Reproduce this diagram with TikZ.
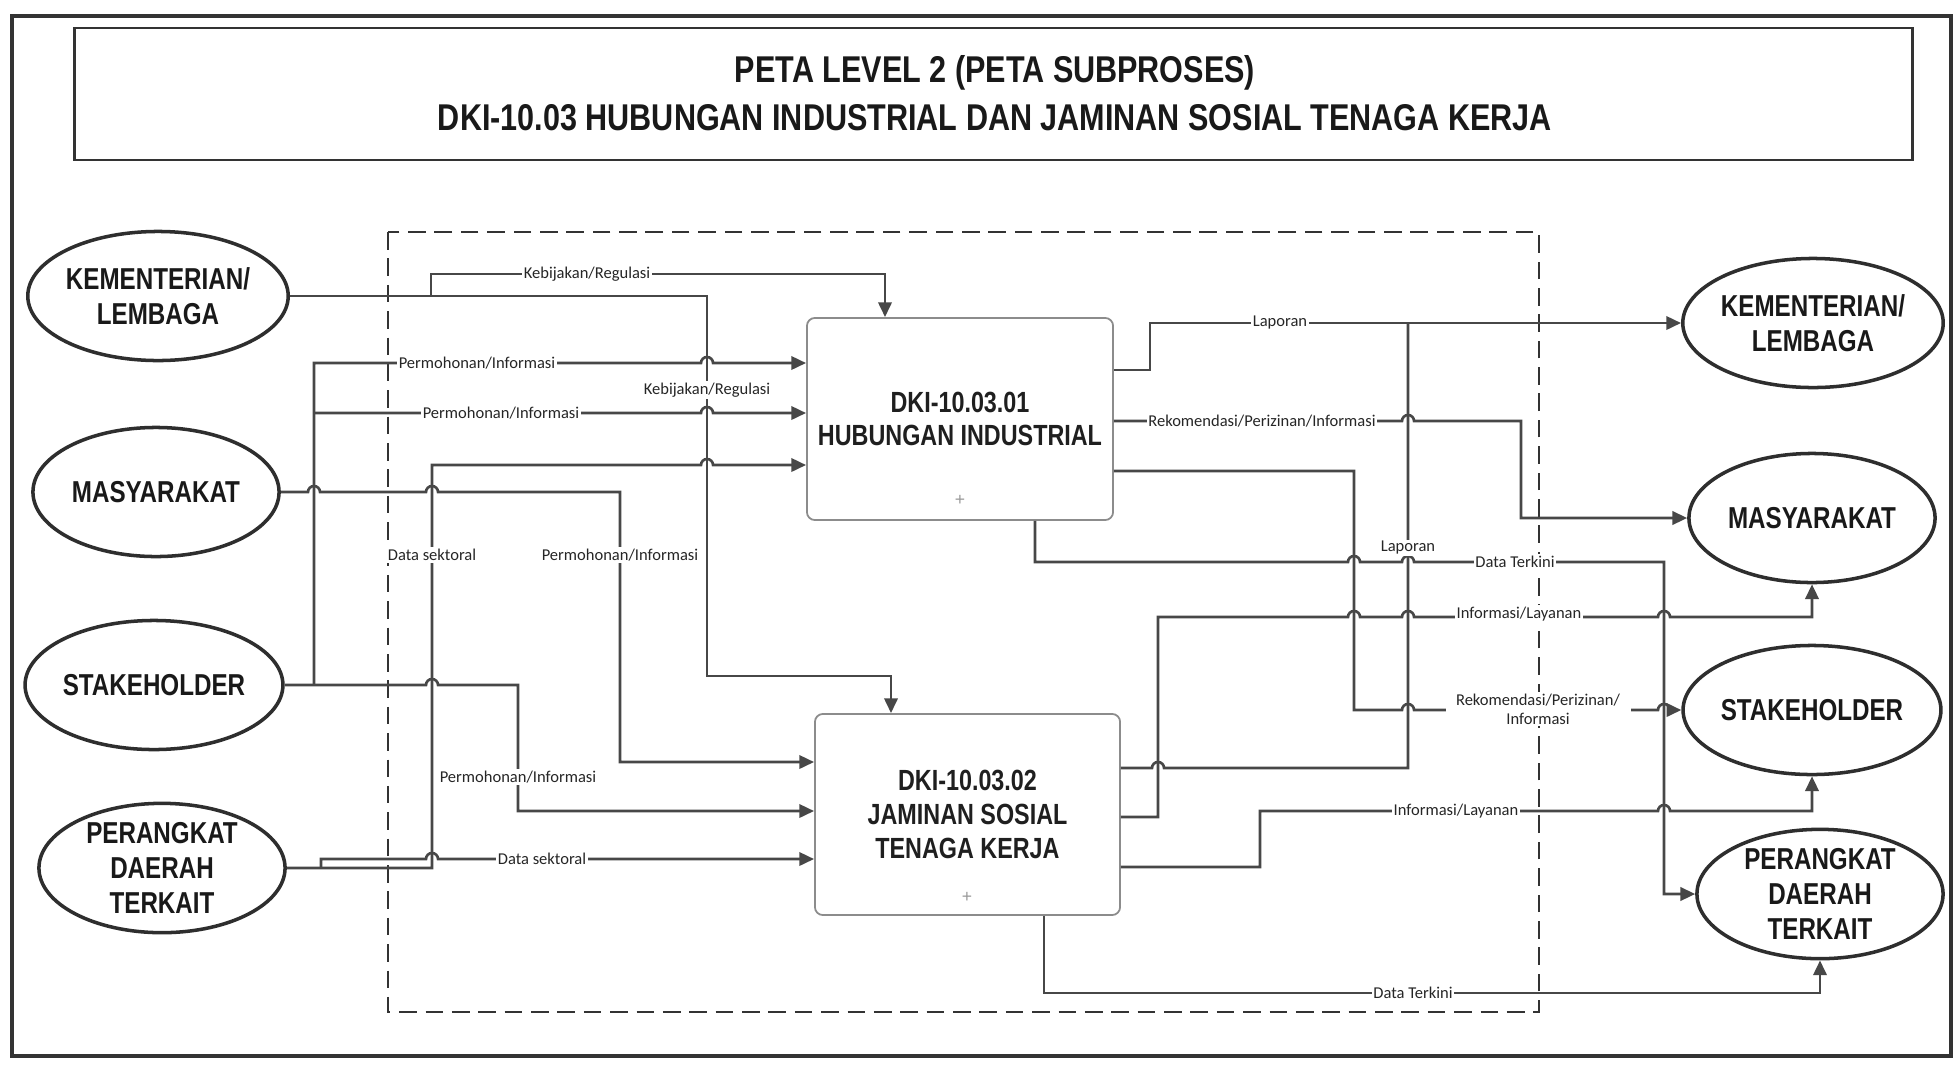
\documentclass[tikz,border=0pt]{standalone}
\usepackage{fontspec}
\setmainfont{Liberation Sans}
\newfontfamily\nbf[FakeStretch=0.8]{Liberation Sans}
\newfontfamily\tbf[FakeStretch=0.82]{Liberation Sans}
\newfontfamily\lbl{Carlito}
\usetikzlibrary{arrows.meta,shapes.geometric}
\newcommand\jmp[2]{-- ({#1-6},#2) arc[start angle=180,end angle=0,radius=0.06cm]}
\tikzset{
  ent/.style={ellipse, draw=black!82, line width=1pt, fill=white, minimum width=2.46cm, minimum height=1.29cm, inner sep=0pt, align=center, text=black!90, font=\nbf\bfseries\fontsize{8.6}{10}\selectfont},
  proc/.style={rectangle, rounded corners=0.08cm, draw=black!45, line width=0.5pt, fill=white, align=center, inner sep=0pt, text=black!88, font=\nbf\bfseries\fontsize{8.3}{9.6}\selectfont},
  conn/.style={draw=black!72, line width=0.75pt},
  arr/.style={conn, -{Triangle[length=4.2pt,width=3.8pt]}},
  lab/.style={font=\lbl\fontsize{4.7}{5.3}\selectfont, fill=white, inner sep=0.5pt, align=center, text=black!85},
  frame/.style={draw=black!80, line width=0.9pt},
  boundary/.style={draw=black!80, line width=0.6pt, dash pattern=on 5pt off 2.5pt},
  plusmark/.style={font=\fontsize{5}{5}\selectfont, text=black!40, inner sep=0pt},
}
\begin{document}
\begin{tikzpicture}[x=0.01cm,y=-0.01cm]
\useasboundingbox (0,0) rectangle (1957,1069);
\fill[white] (0,0) rectangle (1957,1069);
% frames
\draw[frame] (12,16) rectangle (1951,1056);
\node[frame, line width=0.8pt, minimum width=18.37cm, minimum height=1.32cm, inner sep=0pt] (titlebox) at (993.5,94) {};
\node[align=center, text=black!90, font=\tbf\bfseries\fontsize{10.6}{13.6}\selectfont] (title) at (995,93)
  {PETA LEVEL 2 (PETA SUBPROSES)\\DKI-10.03 HUBUNGAN INDUSTRIAL DAN JAMINAN SOSIAL TENAGA KERJA};
\draw[boundary] (388,232) rectangle (1539,1012);

% external entities
\node[ent] (LK) at (158,296) {KEMENTERIAN/\\LEMBAGA};
\node[ent] (LM) at (156,492) {MASYARAKAT};
\node[ent] (LS) at (154,685) {STAKEHOLDER};
\node[ent] (LP) at (162,868) {PERANGKAT\\DAERAH\\TERKAIT};
\node[ent] (RK) at (1813,323) {KEMENTERIAN/\\LEMBAGA};
\node[ent] (RM) at (1812,518) {MASYARAKAT};
\node[ent] (RS) at (1812,710) {STAKEHOLDER};
\node[ent] (RP) at (1820,894) {PERANGKAT\\DAERAH\\TERKAIT};

% processes
\node[proc, minimum width=3.06cm, minimum height=2.02cm] (A) at (960,419) {DKI-10.03.01\\HUBUNGAN INDUSTRIAL};
\node[proc, minimum width=3.05cm, minimum height=2.01cm] (B) at (967.5,814.5) {DKI-10.03.02\\JAMINAN SOSIAL\\TENAGA KERJA};
\node[plusmark] (pA) at (960,500) {+};
\node[plusmark] (pB) at (967,897) {+};

% junctions
\coordinate (jK) at (431,296);
\coordinate (jS) at (314,685);
\coordinate (jS2) at (314,413);
\coordinate (jP) at (321,868);

% left side connectors
\draw[arr] (LK.east) -- (707,296) -- (707,676) -- (891,676) -- (B.north -| 891,0);
\draw[arr] (jK) -- (431,274) -- (885,274) -- (A.north -| 885,0);
\draw[arr] (LM.east) \jmp{314}{492} \jmp{432}{492} -- (620,492) -- (620,762) -- (B.west |- 0,762);
\draw[arr] (LS.east) \jmp{432}{685} -- (518,685) -- (518,811) -- (B.west |- 0,811);
\draw[arr] (jS) -- (314,363) \jmp{707}{363} -- (A.west |- 0,363);
\draw[arr] (jS2) \jmp{707}{413} -- (A.west |- 0,413);
\draw[arr] (LP.east) -- (432,868) -- (432,465) \jmp{707}{465} -- (A.west |- 0,465);
\draw[arr] (jP) -- (321,859) \jmp{432}{859} -- (B.west |- 0,859);

% right side connectors
\coordinate (jL) at (1408,323);
\draw[arr] (A.east |- 0,370) -- (1150,370) -- (1150,323) -- (RK.west);
\draw[conn] (B.east |- 0,768) \jmp{1158}{768} -- (1408,768) -- (jL);
\draw[arr] (A.east |- 0,421) \jmp{1408}{421} -- (1521,421) -- (1521,518) -- (RM.west);
\draw[arr] (A.east |- 0,471) -- (1354,471) -- (1354,710) \jmp{1408}{710} \jmp{1664}{710} -- (RS.west);
\draw[arr] (A.south -| 1035,0) -- (1035,562) \jmp{1354}{562} \jmp{1408}{562} -- (1664,562) -- (1664,894) -- (RP.west);
\draw[arr] (B.east |- 0,817) -- (1158,817) -- (1158,617) \jmp{1354}{617} \jmp{1408}{617} \jmp{1664}{617} -- (1812,617) -- (RM.south);
\draw[arr] (B.east |- 0,867) -- (1260,867) -- (1260,811) \jmp{1664}{811} -- (1812,811) -- (RS.south);
\draw[arr] (B.south -| 1044,0) -- (1044,993) -- (1820,993) -- (RP.south);

% labels
\node[lab] (l1) at (587,274) {Kebijakan/Regulasi};
\node[lab] (l2) at (707,390) {Kebijakan/Regulasi};
\node[lab] (l3) at (477,363) {Permohonan/Informasi};
\node[lab] (l4) at (501,413) {Permohonan/Informasi};
\node[lab] (l5) at (432,555) {Data sektoral};
\node[lab] (l6) at (620,555) {Permohonan/Informasi};
\node[lab] (l7) at (518,777) {Permohonan/Informasi};
\node[lab] (l8) at (542,859) {Data sektoral};
\node[lab] (l9) at (1280,323) {Laporan};
\node[lab] (l10) at (1262,421) {Rekomendasi/Perizinan/Informasi};
\node[lab] (l11) at (1408,548) {Laporan};
\node[lab] (l12) at (1515,562) {Data Terkini};
\node[lab] (l13) at (1519,614) {Informasi/Layanan};
\node[lab, inner xsep=3pt] (l14) at (1538,709) {Rekomendasi/Perizinan/\\Informasi};
\node[lab] (l15) at (1456,811) {Informasi/Layanan};
\node[lab] (l16) at (1413,993) {Data Terkini};
\end{tikzpicture}
\end{document}
